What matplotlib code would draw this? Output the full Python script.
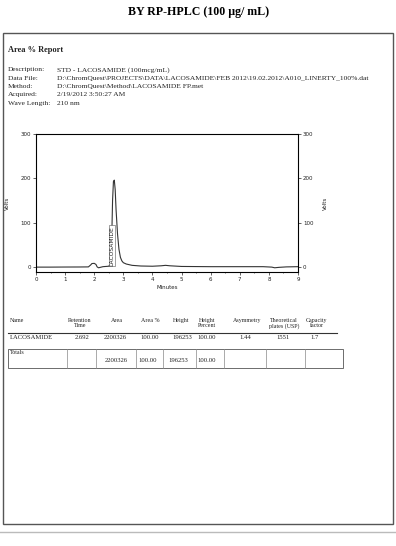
import numpy as np
import matplotlib.pyplot as plt
from matplotlib.patches import Rectangle
from matplotlib.lines import Line2D

W, H = 396, 546

# chromatogram trace (minutes, signal)
t = [0.0, 0.5, 1.0, 1.5, 1.8, 1.88, 1.92, 2.0, 2.06, 2.1, 2.15, 2.3, 2.5, 2.56, 2.6, 2.63,
     2.66, 2.69, 2.72, 2.75, 2.8, 2.85, 2.9, 2.95, 3.0, 3.1, 3.3, 3.6, 4.0, 4.3, 4.45, 4.6,
     5.0, 6.0, 7.0, 7.8, 8.1, 8.2, 8.35, 8.6, 9.0]
sig = [0.0, 0.0, 0.2, 0.3, 0.5, 5.0, 8.0, 8.5, 6.0, 0.5, -1.5, 1.0, 2.0, 8.0, 60.0, 150.0,
       193.0, 196.0, 175.0, 130.0, 75.0, 40.0, 22.0, 14.0, 10.0, 7.0, 4.0, 2.5, 2.0, 3.0, 4.0, 3.0,
       1.5, 1.0, 1.0, 1.0, 0.0, -1.5, -0.5, 0.5, 1.0]

peak_name = "LACOSAMIDE"
peak_rt = 2.61

info_labels = ["Description:", "Data File:", "Method:", "Acquired:", "Wave Length:"]
info_values = ["STD - LACOSAMIDE (100mcg/mL)",
               r"D:\ChromQuest\PROJECTS\DATA\LACOSAMIDE\FEB 2012\19.02.2012\A010_LINERTY_100%.dat",
               r"D:\ChromQuest\Method\LACOSAMIDE FP.met",
               "2/19/2012 3:50:27 AM",
               "210 nm"]

columns = ["Name", "Retention\nTime", "Area", "Area %", "Height", "Height\nPercent",
           "Asymmetry", "Theoretical\nplates (USP)", "Capacity\nfactor"]
row = ["LACOSAMIDE", "2.692", "2200326", "100.00", "196253", "100.00", "1.44", "1551", "1.7"]
totals = ["", "", "2200326", "100.00", "196253", "100.00", "", "", ""]

head_x = [10, 80, 117, 150, 181, 207, 247, 284, 317]
row_x = [10, 82, 115, 150, 182, 207, 245, 283, 315]
tot_x = [10, 82, 116, 148, 178, 207, 245, 283, 315]
box_x = [8, 67, 96, 136, 163, 196, 224, 266, 305, 343]

ink = "#222222"
serif = ["Liberation Serif", "DejaVu Serif"]


def fx(x):
    return x / W


def fy(y):
    return 1 - y / H


fig = plt.figure(figsize=(W / 100, H / 100), dpi=100)
plt.rcParams['font.family'] = serif

fig.text(fx(199), fy(12), "BY RP-HPLC (100 µg/ mL)", ha='center', va='center',
         fontsize=8.6, fontweight='bold', color='black')

# page border
fig.add_artist(Rectangle((fx(3), fy(524)), fx(390), (524 - 33) / H, transform=fig.transFigure,
                         fill=False, edgecolor='#555555', lw=1.0))
fig.add_artist(Line2D([0, 1], [fy(532), fy(532)], transform=fig.transFigure,
                      color='#bbbbbb', lw=1.0))

fig.text(fx(8), fy(50), "Area % Report", ha='left', va='center', fontsize=6,
         fontweight='bold', color=ink)
for i, (lab, val) in enumerate(zip(info_labels, info_values)):
    y = 70 + i * 8.3
    fig.text(fx(8), fy(y), lab, ha='left', va='center', fontsize=5.4, color=ink)
    fig.text(fx(57), fy(y), val, ha='left', va='center', fontsize=5.4, color=ink)

# chromatogram
ax = fig.add_axes([fx(36), fy(272), (298 - 36) / W, (272 - 134) / H])
ax.plot(t, sig, color='#333333', lw=0.8)
ax.set_xlim(0, 9)
ax.set_ylim(-11, 300)
ax.set_xticks(range(10))
ax.set_yticks([0, 100, 200, 300])
ax.set_xticks(np.arange(0, 9.01, 0.5), minor=True)
ax.tick_params(labelsize=4, length=2, width=0.5, colors=ink, pad=1.5)
ax.tick_params(which='minor', length=1, width=0.4)
ax.set_xlabel("Minutes", fontsize=4, color=ink, labelpad=2, family='DejaVu Sans')
ax.set_ylabel("Volts", fontsize=4, color=ink, family='DejaVu Sans')
ax.yaxis.set_label_coords(-0.099, 0.5)
for lbl in ax.get_xticklabels() + ax.get_yticklabels():
    lbl.set_family('DejaVu Sans')
for s in ax.spines.values():
    s.set_linewidth(0.6)
    s.set_color('#444444')
ax.spines['top'].set_color('#aaaaaa')
ax.spines['top'].set_linestyle((0, (2, 1)))

ax2 = ax.twinx()
ax2.set_ylim(-11, 300)
ax2.set_yticks([0, 100, 200, 300])
ax2.tick_params(labelsize=4, length=2, width=0.5, colors=ink, pad=1.5)
for lbl in ax2.get_yticklabels():
    lbl.set_family('DejaVu Sans')
ax2.set_ylabel("Volts", fontsize=4, color=ink, family='DejaVu Sans')
ax2.yaxis.set_label_coords(1.095, 0.5)

ax.text(peak_rt, 3, peak_name, rotation=90, ha='center', va='bottom', fontsize=4.3,
        family='DejaVu Sans', color=ink,
        bbox=dict(boxstyle='square,pad=0.1', fc='white', ec='#555555', lw=0.4))

# results table
for i, (x, c) in enumerate(zip(head_x, columns)):
    ha = 'left' if i == 0 else 'center'
    fig.text(fx(x), fy(318), c, ha=ha, va='top', fontsize=4.3, color=ink, linespacing=1.0)
fig.add_artist(Line2D([fx(8), fx(337)], [fy(333), fy(333)], transform=fig.transFigure,
                      color='#333333', lw=0.8))
for i, (x, v) in enumerate(zip(row_x, row)):
    ha = 'left' if i == 0 else 'center'
    fig.text(fx(x), fy(337.5), v, ha=ha, va='center', fontsize=4.8, color=ink)

fig.add_artist(Rectangle((fx(box_x[0]), fy(368)), fx(box_x[-1] - box_x[0]), 19 / H,
                         transform=fig.transFigure, fill=False, edgecolor='#555555', lw=0.6))
for x in box_x[1:-1]:
    fig.add_artist(Line2D([fx(x), fx(x)], [fy(349), fy(368)], transform=fig.transFigure,
                          color='#888888', lw=0.5))
fig.text(fx(10), fy(352), "Totals", ha='left', va='center', fontsize=4.3, color=ink)
for x, v in zip(tot_x, totals):
    if v:
        fig.text(fx(x), fy(361), v, ha='center', va='center', fontsize=4.8, color=ink)

fig.savefig("out.png", dpi=100)
